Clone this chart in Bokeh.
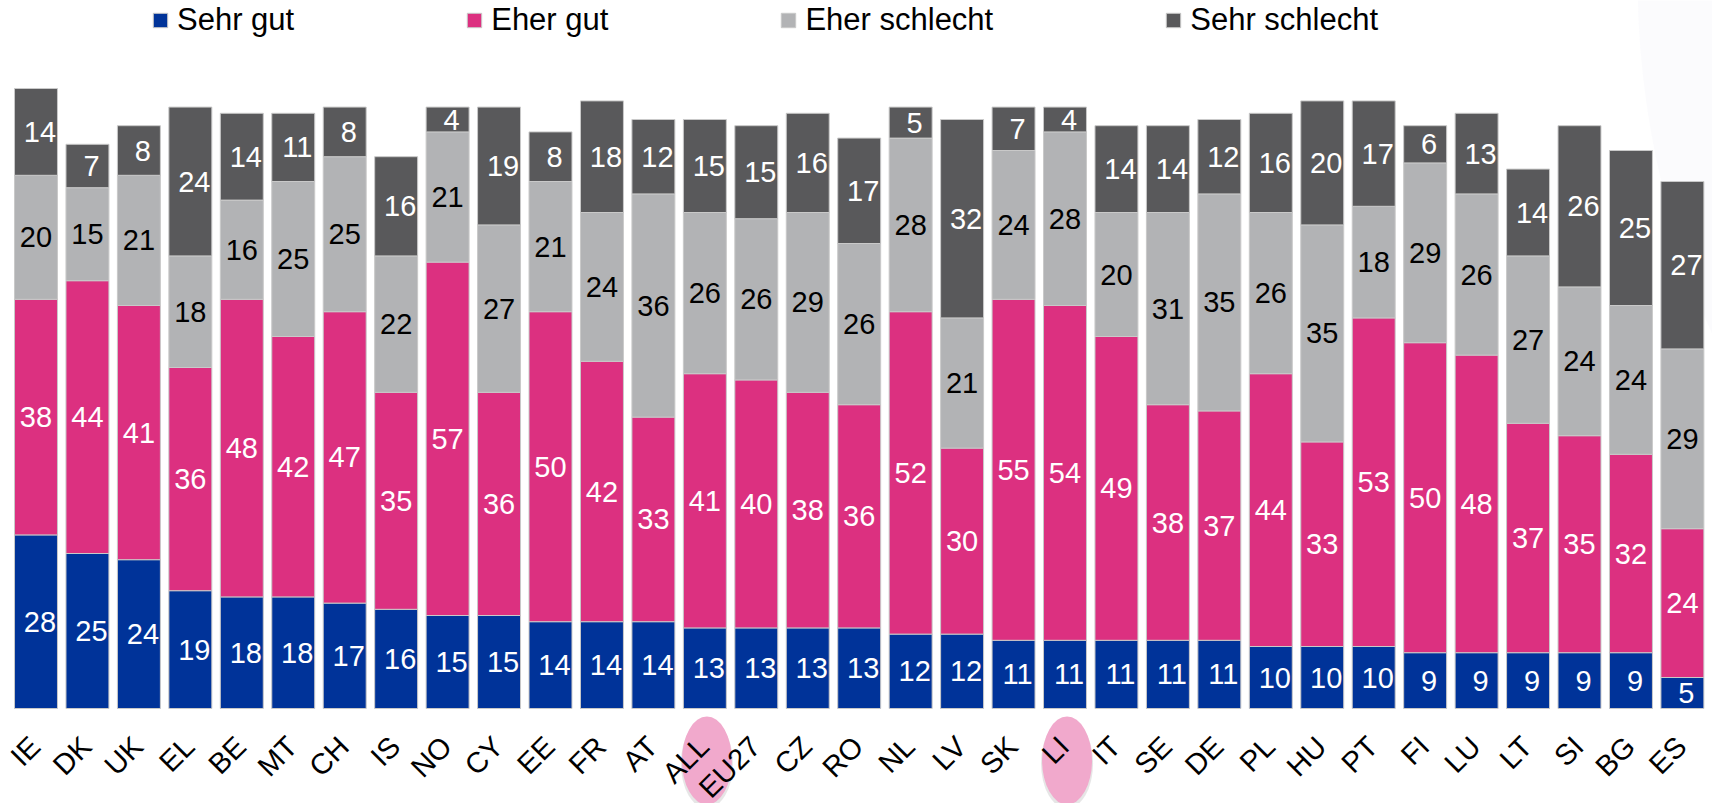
import numpy as np
from math import pi
from bokeh.plotting import figure
from bokeh.models import (ColumnDataSource, Range1d, Legend, LegendItem,
                          PolyAnnotation)
from bokeh.core.properties import value
from bokeh.embed import file_html
from bokeh.resources import INLINE

# ---------------- data ----------------
countries = ["IE", "DK", "UK", "EL", "BE", "MT", "CH", "IS", "NO", "CY", "EE",
             "FR", "AT", "ALL", "EU27", "CZ", "RO", "NL", "LV", "SK", "LI",
             "IT", "SE", "DE", "PL", "HU", "PT", "FI", "LU", "LT", "SI", "BG",
             "ES"]
sehr_gut = [28, 25, 24, 19, 18, 18, 17, 16, 15, 15, 14, 14, 14, 13, 13, 13, 13,
            12, 12, 11, 11, 11, 11, 11, 10, 10, 10, 9, 9, 9, 9, 9, 5]
eher_gut = [38, 44, 41, 36, 48, 42, 47, 35, 57, 36, 50, 42, 33, 41, 40, 38, 36,
            52, 30, 55, 54, 49, 38, 37, 44, 33, 53, 50, 48, 37, 35, 32, 24]
eher_schlecht = [20, 15, 21, 18, 16, 25, 25, 22, 21, 27, 21, 24, 36, 26, 26,
                 29, 26, 28, 21, 24, 28, 20, 31, 35, 26, 35, 18, 29, 26, 27,
                 24, 24, 29]
sehr_schlecht = [14, 7, 8, 24, 14, 11, 8, 16, 4, 19, 8, 18, 12, 15, 15, 16, 17,
                 5, 32, 7, 4, 14, 14, 12, 16, 20, 17, 6, 13, 14, 26, 25, 27]
series_names = ["Sehr gut", "Eher gut", "Eher schlecht", "Sehr schlecht"]
highlighted = ["ALL", "LI"]

# ---------------- styles ----------------
FONT = "Liberation Sans"
colors = ["#003399", "#dc3080", "#b2b3b5", "#59595b"]
label_colors = ["white", "white", "black", "white"]
label_xoff = [4, 0, 0, 4]

keys = ["s0", "s1", "s2", "s3"]
series = [sehr_gut, eher_gut, eher_schlecht, sehr_schlecht]
xs = list(range(len(countries)))

src = ColumnDataSource(dict(x=xs, **{k: v for k, v in zip(keys, series)}))

W, H = 1712, 803
PX_X = 51.45   # px per category
PX_Y = 6.2     # px per percent
BASE = 708     # baseline (px from top)
x0 = -35.5 / PX_X
p = figure(width=W, height=H,
           x_range=Range1d(x0, x0 + W / PX_X),
           y_range=Range1d(-(H - BASE) / PX_Y, BASE / PX_Y),
           output_backend="svg", toolbar_location=None,
           min_border_left=0, min_border_right=0, min_border_top=0,
           min_border_bottom=0)
p.background_fill_color = "white"
p.border_fill_color = "white"
p.outline_line_color = None
p.xgrid.visible = False
p.ygrid.visible = False
p.yaxis.visible = False
p.xaxis.visible = False

# faint decorative circle at top right
t = np.linspace(0, 2 * pi, 200)
cx_px, cy_px, r_px = 2527, -23, 890
arc = PolyAnnotation(xs=list(x0 + (cx_px + r_px * np.cos(t)) / PX_X),
                     ys=list((BASE - cy_px - r_px * np.sin(t)) / PX_Y),
                     fill_color="#f5f5fa", line_color=None, level="underlay")
p.add_layout(arc)

# highlight ellipses behind category labels (with a soft shadow)
hl_idx = [countries.index(n) for n in highlighted]
p.ellipse(x=[i + 0.04 for i in hl_idx], y=[-55 / PX_Y] * len(hl_idx),
          width=52 / PX_X, height=90 / PX_Y, fill_color="#9a9a9a",
          fill_alpha=0.25, line_color=None)
p.ellipse(x=[i + 0.04 for i in hl_idx], y=[-52 / PX_Y] * len(hl_idx),
          width=50 / PX_X, height=88 / PX_Y, fill_color="#f1a9cc",
          line_color=None)

renderers = p.vbar_stack(keys, x="x", width=0.835, color=colors, source=src,
                         line_color="#c9c9c9", line_width=1)

# value labels
bottom = np.zeros(len(countries))
for vals, tc, xo in zip(series, label_colors, label_xoff):
    v = np.array(vals, dtype=float)
    mids = bottom + v / 2
    bottom = bottom + v
    p.text(x=xs, y=list(mids), text=[str(a) for a in vals],
           text_align="center", text_baseline="middle",
           text_font=value(FONT), text_font_size="29px", text_color=tc,
           x_offset=xo)

# category labels (rotated 45°, ending just below each bar)
p.text(x=xs, y=[0] * len(xs), text=countries, angle=pi / 4,
       text_align="right", text_baseline="middle", text_font=value(FONT),
       text_font_size="29px", text_color="black", x_offset=-1, y_offset=33)

# legend
items = [LegendItem(label=n, renderers=[r]) for n, r in zip(series_names, renderers)]
legend = Legend(items=items, orientation="horizontal", location=(151, 765),
                spacing=171, label_standoff=8, glyph_width=18, glyph_height=18,
                padding=0, margin=0, border_line_color=None,
                background_fill_alpha=0, label_text_font=FONT,
                label_text_font_size="31px", label_text_color="black")
p.add_layout(legend, "center")

open("out.html", "w").write(file_html(p, INLINE))
